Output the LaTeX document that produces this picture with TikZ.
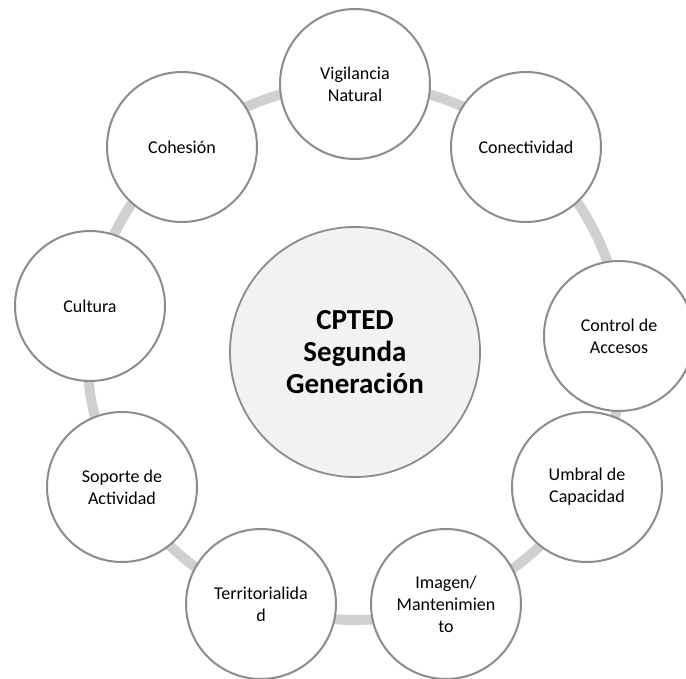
\documentclass[tikz,border=0pt]{standalone}
\usepackage{fontspec}
\setmainfont{Carlito}
\tikzset{>=latex}
\definecolor{ringgray}{RGB}{208,208,208}
\definecolor{rimgray}{RGB}{140,140,140}
\definecolor{hubfill}{RGB}{242,242,242}
\tikzset{
    facet/.style={circle, draw=rimgray, line width=2pt, fill=white, minimum size=150pt, align=center, font=\fontsize{18}{22}\selectfont},
    hub/.style={circle, draw=rimgray, line width=1.8pt, fill=hubfill, minimum size=250pt, align=center, font=\fontsize{29}{32}\selectfont\bfseries},
}

\begin{document}
\begin{tikzpicture}[x=1pt, y=-1pt]
    \useasboundingbox(0, 0)rectangle(686, 679);
    \coordinate(O)at(355, 352);
    \draw[ringgray, line width=10pt](O)circle(268pt);
    \node[hub](hub)at(O){CPTED\\Segunda\\Generación};
    \node[facet](vig)at(355, 84){Vigilancia\\Natural};
    \node[facet](con)at(526, 147){Conectividad};
    \node[facet](acc)at(619, 336){Control de\\Accesos};
    \node[facet](umb)at(587, 487){Umbral de\\Capacidad};
    \node[facet](img)at(446, 604){Imagen/\\Mantenimien\\to};
    \node[facet](ter)at(261, 604){Territorialida\\d};
    \node[facet](sop)at(122, 487){Soporte de\\Actividad};
    \node[facet](cul)at(90, 306){Cultura};
    \node[facet](coh)at(182, 147){Cohesión};
    % \node[facet](x)at(618, 306){};
\end{tikzpicture}
\end{document}
